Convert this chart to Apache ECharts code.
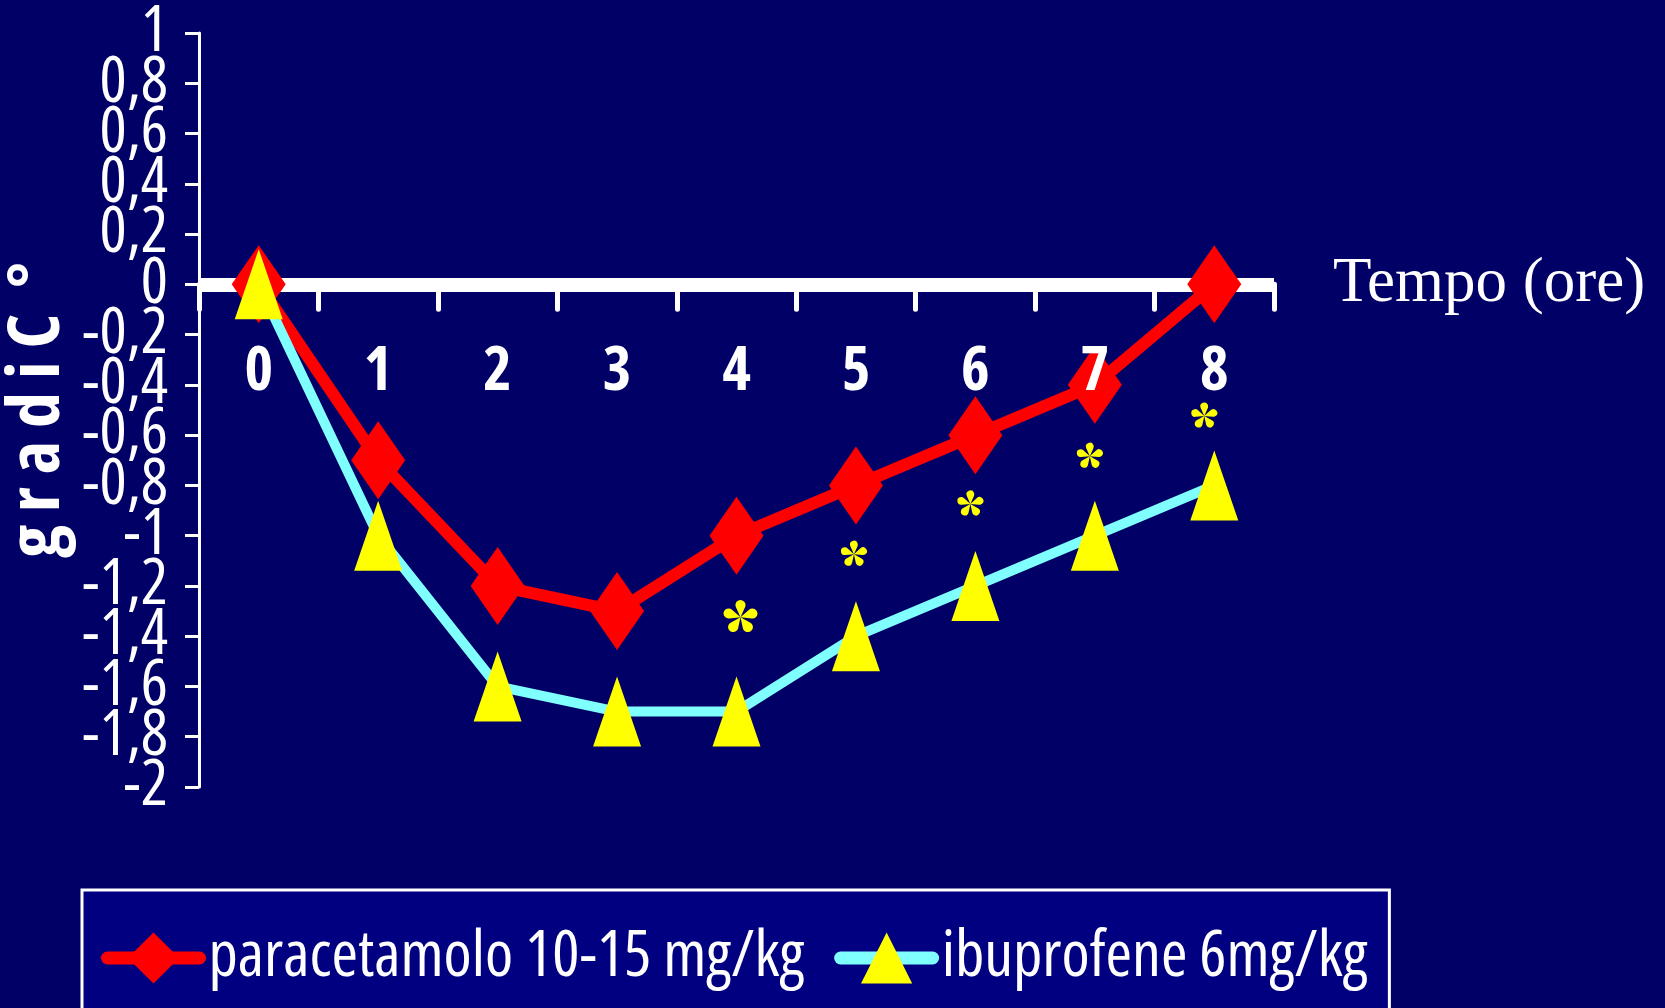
<!DOCTYPE html>
<html><head><meta charset="utf-8">
<script src="https://cdn.jsdelivr.net/npm/echarts@6/dist/echarts.min.js"></script>
<style>html,body{margin:0;padding:0;background:#000066;} #c{width:1665px;height:1008px;}</style>
</head><body><div id="c"></div>
<script>
// ---- data ----
const hours = ['0', '1', '2', '3', '4', '5', '6', '7', '8'];
const paracetamolo = [0, -0.7, -1.2, -1.3, -1.0, -0.8, -0.6, -0.4, 0];
const ibuprofene = [0, -1.0, -1.6, -1.7, -1.7, -1.4, -1.2, -1.0, -0.8];
const significance = [null, null, null, null, -1.32, -1.07, -0.87, -0.68, -0.52];
const seriesNames = ['paracetamolo 10-15 mg/kg', 'ibuprofene 6mg/kg'];
const yMin = -2, yMax = 1, yStep = 0.2;
const xTitle = 'Tempo (ore)';
const yTitle = 'g r a d i C  °';

// ---- chart ----
const SANS = "'Open Sans', 'DejaVu Sans Condensed', sans-serif";
const SERIF = "'Liberation Serif', 'Times New Roman', serif";
const chart = echarts.init(document.getElementById('c'), null, {renderer: 'canvas'});

function fmtY(v) {
  const r = Math.round(v * 10) / 10;
  return String(r === 0 ? 0 : r).replace('.', ',');
}

// five-petal asterisk glyph used as a symbol
function asteriskPath() {
  const L = 45, r = 13, d = L - r;
  const a = Math.asin(r / d), t = Math.sqrt(d * d - r * r);
  let p = '';
  for (let k = 0; k < 5; k++) {
    const th = -Math.PI / 2 + k * 2 * Math.PI / 5;
    const x1 = 50 + t * Math.cos(th - a), y1 = 50 + t * Math.sin(th - a);
    const x2 = 50 + t * Math.cos(th + a), y2 = 50 + t * Math.sin(th + a);
    p += 'M50 50 L' + x1.toFixed(2) + ' ' + y1.toFixed(2) +
         ' A' + r + ' ' + r + ' 0 1 1 ' + x2.toFixed(2) + ' ' + y2.toFixed(2) + ' Z ';
  }
  return 'path://' + p;
}
// small horizontal nudges of the asterisks, as placed in the original slide (styling)
const sigNudge = [0, 0, 0, 0, 4, -2, -5, -5, -10];
const sigItems = significance.map((v, i) => (v == null ? null : {
  value: v,
  symbolSize: i === 4 ? [34, 32] : [26, 25],
  symbolOffset: [sigNudge[i], 0]
}));

const yLabelStyle = {
  show: true, margin: 31, color: '#fff', fontFamily: SANS, fontWeight: 'condensed', fontSize: 64,
  formatter: fmtY, hideOverlap: false
};
const yTickStyle = {show: true, inside: false, length: 14, lineStyle: {color: '#fff', width: 3}};

chart.setOption({
  animation: false,
  backgroundColor: '#000066',
  grid: {left: 199, top: 33, right: 391, bottom: 221, containLabel: false, outerBoundsMode: 'none'},
  xAxis: [{
    type: 'category',
    data: hours,
    boundaryGap: true,
    name: xTitle,
    nameLocation: 'end',
    nameGap: 59,
    nameMoveOverlap: false,
    nameTextStyle: {color: '#fff', fontFamily: SERIF, fontSize: 63, padding: [6, 0, 0, 0]},
    axisLine: {show: true, onZero: true, onZeroAxisIndex: 0, lineStyle: {color: '#fff', width: 14, cap: 'butt'}},
    axisTick: {show: true, alignWithLabel: false, interval: 0, length: 25, lineStyle: {color: '#fff', width: 5, cap: 'round'}},
    axisLabel: {show: false},
    splitLine: {show: false},
    z: 0
  }, {
    type: 'category',
    data: hours,
    boundaryGap: true,
    position: 'top',
    axisLine: {show: false, onZero: false},
    axisTick: {show: false},
    axisLabel: {
      show: true, inside: true, interval: 0, margin: 309,
      color: '#fff', fontFamily: SANS, fontWeight: 'bold condensed', fontSize: 61
    },
    splitLine: {show: false},
    z: 10
  }],
  yAxis: [{
    // inner ticks and labels (0,8 ... -1,8) plus the axis line and title
    type: 'value',
    position: 'left',
    min: yMin, max: yMax, interval: yStep,
    name: yTitle,
    nameLocation: 'middle',
    nameRotate: 90,
    nameGap: 125,
    nameMoveOverlap: false,
    nameTextStyle: {color: '#fff', fontFamily: SANS, fontWeight: 'bold condensed', fontSize: 72},
    axisLine: {show: true, onZero: false, lineStyle: {color: '#fff', width: 3}},
    axisTick: yTickStyle,
    axisLabel: Object.assign({}, yLabelStyle, {showMinLabel: false, showMaxLabel: false}),
    splitLine: {show: false}
  }, {
    // end ticks and labels (1 and -2) of the same scale
    type: 'value',
    position: 'left',
    offset: 0,
    min: yMin, max: yMax, interval: yMax - yMin,
    axisLine: {show: false, onZero: false},
    axisTick: yTickStyle,
    axisLabel: Object.assign({}, yLabelStyle, {showMinLabel: true, showMaxLabel: true}),
    splitLine: {show: false}
  }],
  legend: {
    left: 82, top: 890,
    orient: 'horizontal',
    selectedMode: false,
    data: seriesNames,
    itemWidth: 92, itemHeight: 64, itemGap: 30,
    padding: [36, 22, 80, 19],
    backgroundColor: '#000080',
    borderColor: '#ffffff', borderWidth: 3, borderRadius: 0,
    textStyle: {color: '#fff', fontFamily: SANS, fontWeight: 'condensed', fontSize: 64, padding: [0, 0, 0, 4]},
    lineStyle: {width: 13, cap: 'round'}
  },
  series: [{
    name: seriesNames[0],
    type: 'line',
    data: paracetamolo,
    symbol: 'diamond',
    symbolSize: [54, 78],
    showAllSymbol: true,
    lineStyle: {color: '#ff0000', width: 12},
    itemStyle: {color: '#ff0000'},
    z: 3
  }, {
    name: seriesNames[1],
    type: 'line',
    data: ibuprofene,
    symbol: 'triangle',
    symbolSize: [48, 70],
    showAllSymbol: true,
    lineStyle: {color: '#80ffff', width: 10},
    itemStyle: {color: '#ffff00'},
    z: 4
  }, {
    name: 'sig',
    type: 'scatter',
    data: sigItems,
    symbol: asteriskPath(),
    itemStyle: {color: '#ffff00', opacity: 1},
    z: 5
  }]
});
</script>
</body></html>
